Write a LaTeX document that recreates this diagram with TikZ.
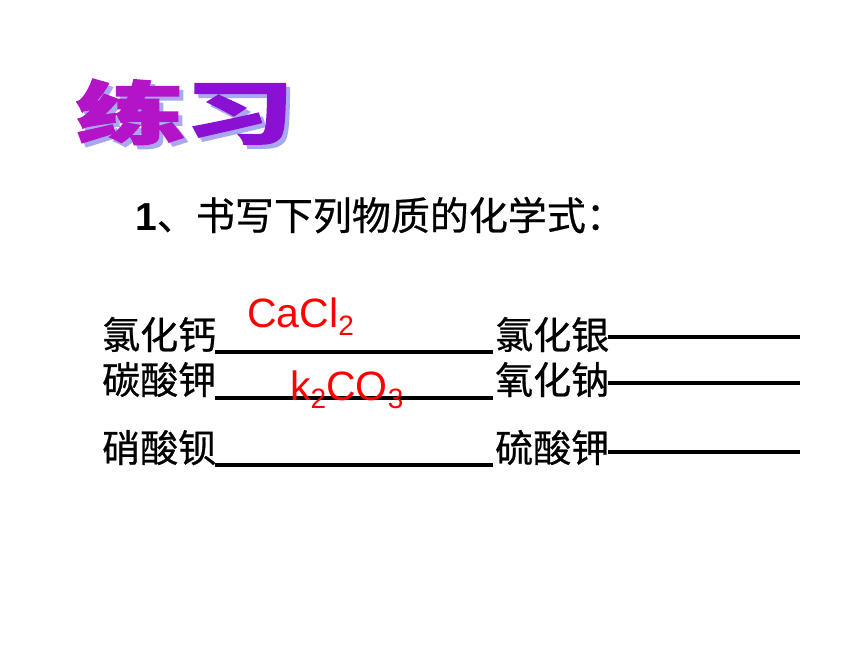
\documentclass[tikz,border=0pt]{standalone}
\usepackage{fontspec}
\newfontfamily\cjk{Noto Sans CJK SC}[FakeBold=0.6]
\newfontfamily\cjktitle{Noto Sans CJK SC}[BoldFeatures={FakeBold=2.5}]
\newfontfamily\arial{Liberation Sans}
\definecolor{titleA}{HTML}{B414C8}
\definecolor{titleB}{HTML}{8A10D4}
\definecolor{shadowc}{HTML}{A8A8F0}
\begin{document}
\begin{tikzpicture}[x=1pt,y=-1pt,
  row/.style={anchor=base west,inner sep=0pt,font=\cjk\fontsize{38}{38}\selectfont},
  formula/.style={anchor=base west,inner sep=0pt,text=red,font=\arial\fontsize{41}{41}\selectfont},
  blank/.style={line width=3.5pt,black},
  titletext/.style={inner sep=0pt,font=\cjktitle\bfseries\fontsize{68}{68}\selectfont}]
\fill[white] (0,0) rectangle (860,645);
\useasboundingbox (0,0) rectangle (860,645);
% title
\begin{scope}[shift={(185,112)}]
  \node[titletext,xscale=1.6,text=shadowc] (tshadow) at (4,4) {练习};
  \node[titletext,xscale=1.6] (title) at (0,0) {\textcolor{titleA}{练}\textcolor{titleB}{习}};
\end{scope}
% question
\node[anchor=base west,inner sep=0pt,font=\cjk\fontsize{39}{39}\selectfont] (q) at (135,230) {{\arial\bfseries 1}、书写下列物质的化学式：};
% rows
\node[row] (r1a) at (102,349) {氯化钙};
\node[row] (r2a) at (102,394) {碳酸钾};
\node[row] (r3a) at (102,462) {硝酸钡};
\node[row] (r1b) at (495,349) {氯化银};
\node[row] (r2b) at (495,394) {氧化钠};
\node[row] (r3b) at (495,462) {硫酸钾};
% blanks
\coordinate (u1s) at (215,352); \coordinate (u1e) at (493,352);
\coordinate (u2s) at (215,398); \coordinate (u2e) at (493,398);
\coordinate (u3s) at (215,465); \coordinate (u3e) at (493,465);
\coordinate (d1s) at (608,337); \coordinate (d1e) at (800,337);
\coordinate (d2s) at (608,383); \coordinate (d2e) at (800,383);
\coordinate (d3s) at (608,452); \coordinate (d3e) at (800,452);
\foreach \k in {1,2,3}{
  \draw[blank] (u\k s) -- (u\k e);
  \draw[blank] (d\k s) -- (d\k e);}
% answers
\node[formula] (f1) at (247,327) {CaCl\raisebox{-8pt}{\fontsize{28}{28}\selectfont 2}};
\node[formula] (f2) at (290,400) {k\raisebox{-8pt}{\fontsize{28}{28}\selectfont 2}CO\raisebox{-8pt}{\fontsize{28}{28}\selectfont 3}};
\end{tikzpicture}
\end{document}
